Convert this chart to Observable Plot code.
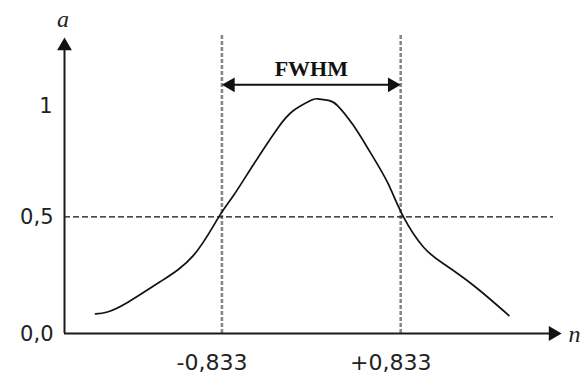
<!DOCTYPE html>
<html>
<head>
<meta charset="utf-8">
<script src="https://cdn.jsdelivr.net/npm/d3@7"></script>
<script src="https://cdn.jsdelivr.net/npm/@observablehq/plot@0.6"></script>
<style>
  html, body { margin: 0; padding: 0; background: #fff; }
  svg { display: block; }
</style>
</head>
<body>
<div id="chart"></div>
<script>
// ---- data ----
const curveX = [-2.011, -1.900, -1.713, -1.405, -1.098, -0.865, -0.725, -0.539, -0.315, -0.166, -0.007, 0.058, 0.160, 0.244, 0.393, 0.551, 0.710, 0.859, 1.046, 1.232, 1.512, 1.842];
const curveY = [0.084, 0.092, 0.133, 0.223, 0.335, 0.498, 0.592, 0.725, 0.880, 0.957, 1.0, 1.007, 1.0, 0.978, 0.892, 0.776, 0.648, 0.5, 0.370, 0.299, 0.206, 0.077];

const yTickValues = [0, 0.5, 1];
const yTickLabels = ["0,0", "0,5", "1"];
const xTickValues = [-0.833, 0.833];
const xTickLabels = ["-0,833", "+0,833"];

const halfMax = 0.5;
const fwhmLevel = 1.067;
const fwhmText = "FWHM";
const yAxisX = -2.3;        // where the vertical axis stands
const xAxisEnd = 2.332;     // tip of the horizontal axis arrow
const yAxisEnd = 1.27;      // tip of the vertical axis arrow
const halfLineEnd = 2.257;  // right end of the 0.5 dashed line
const guideTop = 1.283;     // top of the grey dashed guides
const yAxisTitle = "a";
const xAxisTitle = "n";

const curve = curveX.map((x, i) => ({x, y: curveY[i]}));
const yTicks = yTickValues.map((v, i) => ({v, label: yTickLabels[i]}));
const xTicks = xTickValues.map((v, i) => ({v, label: xTickLabels[i]}));

const ink = "#111";
const headR = 5.5;            // triangle head radius
const headOff = 8.5;          // centroid-to-tip distance in px

const chart = Plot.plot({
  width: 581,
  height: 374,
  marginLeft: 64,
  marginRight: 18,
  marginTop: 30,
  marginBottom: 41,
  x: {domain: [-2.3, 2.35], axis: null},
  y: {domain: [0, 1.3], axis: null},
  style: {background: "#fff", overflow: "visible"},
  marks: [
    // grey dashed FWHM guides
    Plot.ruleX(xTickValues, {y1: 0, y2: guideTop, stroke: "#888", strokeWidth: 2.6, strokeDasharray: "4,2"}),
    // half maximum dashed line
    Plot.ruleY([halfMax], {x1: yAxisX, x2: halfLineEnd, stroke: ink, strokeWidth: 1.3, strokeDasharray: "6,3"}),
    // axes
    Plot.ruleX([yAxisX], {y1: 0, y2: yAxisEnd - 0.02, stroke: "#1a1a1a", strokeWidth: 2}),
    Plot.ruleY([0], {x1: yAxisX, x2: xAxisEnd - 0.04, stroke: "#1a1a1a", strokeWidth: 2}),
    Plot.dot([{x: yAxisX, y: yAxisEnd}], {x: "x", y: "y", symbol: "triangle", r: headR, dy: headOff, fill: "#111", stroke: "none"}),
    Plot.dot([{x: xAxisEnd, y: 0}], {x: "x", y: "y", symbol: "triangle", r: headR, dx: -headOff, rotate: 90, fill: "#111", stroke: "none"}),
    // FWHM double arrow
    Plot.ruleY([fwhmLevel], {x1: xTickValues[0] + 0.05, x2: xTickValues[1] - 0.05, stroke: ink, strokeWidth: 2}),
    Plot.dot([{x: xTickValues[0], y: fwhmLevel}], {x: "x", y: "y", symbol: "triangle", r: headR, dx: headOff, rotate: -90, fill: "#111", stroke: "none"}),
    Plot.dot([{x: xTickValues[1], y: fwhmLevel}], {x: "x", y: "y", symbol: "triangle", r: headR, dx: -headOff, rotate: 90, fill: "#111", stroke: "none"}),
    // the curve
    Plot.line(curve, {x: "x", y: "y", curve: "natural", stroke: ink, strokeWidth: 1.7}),
    // texts
    Plot.text([fwhmText], {x: 0, y: fwhmLevel, text: d => d, dy: -9.3, lineAnchor: "bottom", textAnchor: "middle",
      fontFamily: "Liberation Serif", fontWeight: "bold", fontSize: 22, fill: ink, ariaLabel: "fwhm-label"}),
    Plot.text(yTicks.filter(d => d.v < 1), {x: yAxisX, y: "v", text: "label", dx: -11, dy: 7, lineAnchor: "bottom", textAnchor: "end",
      fontFamily: "DejaVu Sans", fontSize: 21, fill: "#222", ariaLabel: "ytick-labels"}),
    Plot.text(yTicks.filter(d => d.v >= 1), {x: yAxisX, y: "v", text: "label", dx: -12, dy: 13, lineAnchor: "bottom", textAnchor: "end",
      fontFamily: "DejaVu Sans", fontSize: 21, fill: "#222", ariaLabel: "ytick-labels"}),
    Plot.text(xTicks, {x: "v", y: 0, text: "label", dx: -10, dy: 36, lineAnchor: "bottom", textAnchor: "middle",
      fontFamily: "DejaVu Sans", fontSize: 22, fill: "#222", ariaLabel: "xtick-labels"}),
    Plot.text([yAxisTitle], {x: yAxisX, y: yAxisEnd, text: d => d, dx: -1.5, dy: -10, lineAnchor: "bottom", textAnchor: "middle",
      fontFamily: "Liberation Serif", fontStyle: "italic", fontSize: 24, fill: "#222", ariaLabel: "axis-titles"}),
    Plot.text([xAxisTitle], {x: xAxisEnd, y: 0, text: d => d, dx: 7, dy: 8, lineAnchor: "bottom", textAnchor: "start",
      fontFamily: "Liberation Serif", fontStyle: "italic", fontSize: 24, fill: "#222", ariaLabel: "axis-titles"})
  ]
});

// the reference image is stretched vertically: stretch texts around their baseline anchor
function stretch(svg, label, s) {
  svg.querySelectorAll(`g[aria-label="${label}"] text`).forEach(t => {
    const x = parseFloat(t.getAttribute("x")) || 0;
    const y = parseFloat(t.getAttribute("y")) || 0;
    const tr = t.getAttribute("transform") || "";
    t.setAttribute("transform", `${tr} translate(${x},${y}) scale(1,${s}) translate(${-x},${-y})`);
  });
}
stretch(chart, "fwhm-label", 1.1);
stretch(chart, "ytick-labels", 1.15);
stretch(chart, "xtick-labels", 1.2);
stretch(chart, "axis-titles", 1.15);

document.getElementById("chart").appendChild(chart);
</script>
</body>
</html>
